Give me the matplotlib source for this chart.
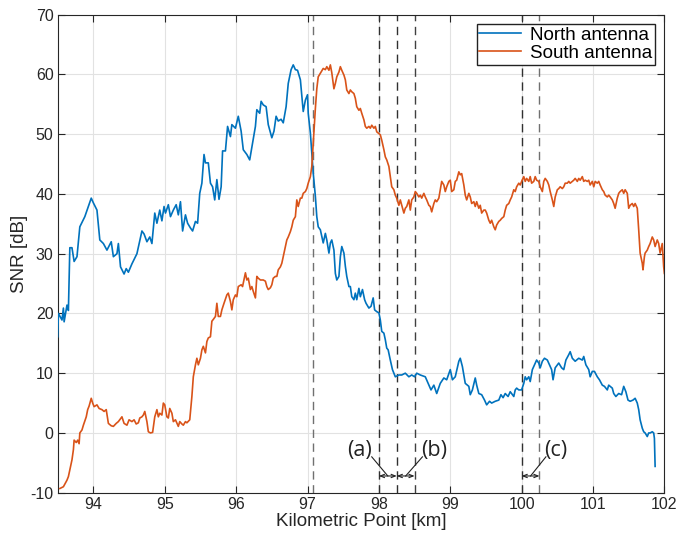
import matplotlib
matplotlib.use("Agg")
import matplotlib.pyplot as plt

plt.rcParams["font.family"] = ["Liberation Sans", "DejaVu Sans"]
plt.rcParams["axes.unicode_minus"] = False

# North antenna (km, dB)
north_km = [93.50, 93.51, 93.56, 93.58, 93.59, 93.63, 93.65, 93.67, 93.70, 93.73, 93.77, 93.81, 93.88, 93.93,
            93.97, 94.00, 94.05, 94.09, 94.14, 94.19, 94.25, 94.28, 94.33, 94.35, 94.38, 94.43, 94.46, 94.49,
            94.54, 94.61, 94.68, 94.71, 94.75, 94.79, 94.82, 94.86, 94.89, 94.93, 94.96, 94.99, 95.01, 95.05,
            95.08, 95.12, 95.16, 95.19, 95.22, 95.25, 95.29, 95.32, 95.36, 95.39, 95.43, 95.46, 95.49, 95.52,
            95.55, 95.57, 95.61, 95.64, 95.67, 95.70, 95.73, 95.76, 95.79, 95.81, 95.85, 95.88, 95.92, 95.94,
            95.99, 96.03, 96.07, 96.10, 96.15, 96.19, 96.23, 96.27, 96.29, 96.33, 96.35, 96.38, 96.42, 96.45,
            96.50, 96.53, 96.56, 96.59, 96.63, 96.66, 96.70, 96.73, 96.77, 96.80, 96.83, 96.86, 96.90, 96.94,
            96.97, 97.00, 97.01, 97.04, 97.06, 97.08, 97.11, 97.13, 97.15, 97.18, 97.20, 97.22, 97.25, 97.27,
            97.30, 97.32, 97.34, 97.37, 97.39, 97.41, 97.44, 97.46, 97.48, 97.51, 97.53, 97.55, 97.58, 97.60,
            97.62, 97.65, 97.67, 97.69, 97.72, 97.74, 97.77, 97.80, 97.82, 97.86, 97.89, 97.92, 97.94, 97.97,
            98.00, 98.02, 98.04, 98.07, 98.09, 98.11, 98.13, 98.16, 98.19, 98.23, 98.28, 98.32, 98.37, 98.42,
            98.46, 98.50, 98.53, 98.58, 98.65, 98.70, 98.73, 98.77, 98.81, 98.86, 98.91, 98.95, 99.00, 99.03,
            99.07, 99.12, 99.14, 99.17, 99.21, 99.26, 99.28, 99.31, 99.35, 99.37, 99.40, 99.44, 99.48, 99.51,
            99.55, 99.58, 99.63, 99.68, 99.71, 99.74, 99.77, 99.81, 99.84, 99.89, 99.91, 99.93, 99.96, 100.00,
            100.03, 100.05, 100.07, 100.10, 100.12, 100.15, 100.18, 100.21, 100.24, 100.26, 100.29, 100.32,
            100.36, 100.39, 100.42, 100.44, 100.47, 100.52, 100.56, 100.59, 100.62, 100.66, 100.68, 100.71,
            100.75, 100.80, 100.85, 100.87, 100.90, 100.94, 100.96, 100.99, 101.02, 101.06, 101.09, 101.13,
            101.16, 101.20, 101.22, 101.27, 101.29, 101.32, 101.36, 101.40, 101.43, 101.46, 101.49, 101.52,
            101.56, 101.59, 101.62, 101.64, 101.66, 101.69, 101.71, 101.73, 101.76, 101.78, 101.80, 101.83,
            101.85, 101.86, 101.87]
north_db = [16.1, 20.0, 18.9, 20.9, 18.6, 21.4, 20.5, 31.0, 31.0, 28.7, 29.5, 34.5, 36.2, 37.9,
            39.3, 38.5, 37.3, 32.3, 31.7, 30.6, 32.0, 29.5, 30.0, 31.7, 27.8, 26.6, 27.5, 26.9,
            28.3, 30.0, 33.8, 33.3, 32.0, 32.8, 31.7, 36.8, 35.1, 37.3, 35.5, 37.9, 36.8, 38.2,
            36.2, 37.3, 38.2, 36.5, 38.7, 33.8, 36.5, 35.1, 34.3, 33.8, 35.4, 35.1, 40.1, 41.8,
            46.6, 45.2, 45.2, 41.8, 41.2, 39.0, 42.4, 39.1, 41.2, 47.2, 47.2, 51.3, 49.6, 51.6,
            51.0, 53.0, 50.5, 47.4, 46.6, 45.7, 48.5, 51.3, 54.1, 53.5, 55.5, 54.9, 54.6, 51.6,
            49.4, 50.5, 53.0, 52.2, 52.5, 51.9, 54.6, 58.5, 60.8, 61.6, 60.8, 60.7, 59.1, 53.8,
            55.7, 56.6, 53.5, 50.2, 46.8, 43.5, 39.6, 36.2, 34.5, 34.0, 32.9, 31.8, 33.4, 32.3,
            30.1, 31.8, 32.3, 30.6, 26.7, 25.6, 26.2, 29.5, 31.2, 30.1, 27.9, 26.2, 24.5, 24.5,
            22.8, 22.3, 23.4, 22.3, 24.2, 22.8, 24.0, 22.3, 21.7, 20.9, 21.2, 22.6, 20.6, 20.3,
            20.1, 18.9, 17.0, 16.7, 15.6, 14.2, 13.9, 12.2, 10.6, 9.4, 9.7, 9.7, 10.0, 9.4,
            9.7, 9.4, 10.0, 9.7, 9.4, 8.0, 7.2, 8.0, 6.6, 8.3, 9.2, 8.9, 10.6, 8.9,
            9.4, 12.0, 12.5, 11.1, 8.3, 7.8, 6.4, 7.2, 9.2, 8.0, 6.6, 6.4, 5.5, 4.7,
            5.3, 5.0, 5.3, 5.5, 6.4, 5.9, 6.6, 6.1, 6.9, 6.1, 7.2, 7.5, 7.2, 7.2,
            8.3, 9.4, 8.9, 9.4, 8.6, 10.6, 11.4, 12.2, 11.7, 10.9, 12.0, 12.5,
            12.2, 11.4, 10.6, 8.9, 10.9, 11.7, 10.9, 10.6, 12.2, 13.1, 13.6, 12.5,
            12.0, 12.5, 12.2, 12.8, 11.4, 10.6, 9.4, 10.3, 10.3, 9.4, 8.9, 8.0,
            7.8, 7.2, 8.0, 7.5, 6.6, 6.1, 6.6, 6.4, 7.8, 6.9, 5.5, 5.3,
            5.5, 5.8, 5.0, 3.9, 2.2, 0.8, 0.2, 0.0, -0.6, 0.0, 0.0, 0.2,
            0.0, -0.9, -5.6]

# South antenna (km, dB)
south_km = [93.53, 93.58, 93.63, 93.65, 93.67, 93.70, 93.72, 93.73, 93.76, 93.78, 93.80, 93.81, 93.84, 93.86,
            93.90, 93.92, 93.94, 93.97, 93.99, 94.01, 94.05, 94.08, 94.12, 94.15, 94.18, 94.21, 94.25, 94.28,
            94.32, 94.35, 94.40, 94.43, 94.47, 94.50, 94.54, 94.57, 94.60, 94.63, 94.65, 94.68, 94.70, 94.72,
            94.75, 94.77, 94.80, 94.83, 94.86, 94.89, 94.91, 94.93, 94.96, 94.98, 95.00, 95.03, 95.05, 95.07,
            95.10, 95.12, 95.15, 95.19, 95.21, 95.24, 95.26, 95.29, 95.31, 95.35, 95.38, 95.40, 95.43, 95.45,
            95.47, 95.50, 95.52, 95.54, 95.57, 95.59, 95.61, 95.64, 95.66, 95.68, 95.71, 95.73, 95.75, 95.78,
            95.80, 95.83, 95.87, 95.89, 95.92, 95.94, 95.96, 95.99, 96.01, 96.03, 96.07, 96.09, 96.13, 96.15,
            96.17, 96.20, 96.22, 96.24, 96.27, 96.29, 96.31, 96.34, 96.36, 96.38, 96.41, 96.43, 96.45, 96.48,
            96.50, 96.52, 96.55, 96.57, 96.59, 96.62, 96.64, 96.66, 96.69, 96.71, 96.73, 96.76, 96.78, 96.80,
            96.83, 96.85, 96.87, 96.90, 96.92, 96.94, 96.97, 96.99, 97.01, 97.04, 97.06, 97.07, 97.09, 97.11,
            97.13, 97.15, 97.18, 97.20, 97.22, 97.25, 97.27, 97.30, 97.32, 97.34, 97.37, 97.39, 97.41, 97.44,
            97.46, 97.48, 97.51, 97.53, 97.55, 97.58, 97.60, 97.62, 97.65, 97.67, 97.69, 97.72, 97.74, 97.76,
            97.79, 97.81, 97.83, 97.86, 97.88, 97.90, 97.93, 97.95, 97.97, 98.00, 98.02, 98.04, 98.07, 98.09,
            98.11, 98.14, 98.16, 98.18, 98.21, 98.23, 98.25, 98.28, 98.30, 98.32, 98.35, 98.37, 98.39, 98.42,
            98.44, 98.46, 98.49, 98.51, 98.53, 98.56, 98.58, 98.60, 98.63, 98.65, 98.67, 98.70, 98.72, 98.74,
            98.77, 98.79, 98.81, 98.84, 98.86, 98.88, 98.91, 98.93, 98.95, 98.98, 99.00, 99.02, 99.05, 99.07,
            99.09, 99.12, 99.14, 99.16, 99.19, 99.21, 99.23, 99.26, 99.28, 99.30, 99.33, 99.35, 99.37, 99.40,
            99.42, 99.44, 99.47, 99.49, 99.51, 99.54, 99.56, 99.58, 99.61, 99.63, 99.65, 99.68, 99.70, 99.72,
            99.75, 99.77, 99.79, 99.82, 99.84, 99.86, 99.89, 99.91, 99.93, 99.96, 99.98, 100.00, 100.03, 100.05,
            100.07, 100.10, 100.12, 100.14, 100.17, 100.19, 100.21, 100.24, 100.26, 100.29, 100.31, 100.33,
            100.36, 100.38, 100.40, 100.43, 100.45, 100.47, 100.50, 100.52, 100.54, 100.57, 100.59, 100.61,
            100.64, 100.66, 100.68, 100.71, 100.73, 100.75, 100.78, 100.80, 100.82, 100.85, 100.87, 100.89,
            100.92, 100.94, 100.96, 100.99, 101.01, 101.03, 101.06, 101.08, 101.10, 101.13, 101.15, 101.17,
            101.20, 101.22, 101.24, 101.27, 101.29, 101.31, 101.34, 101.36, 101.38, 101.41, 101.43, 101.45,
            101.48, 101.50, 101.52, 101.55, 101.57, 101.59, 101.62, 101.64, 101.66, 101.69, 101.70, 101.72,
            101.73, 101.76, 101.78, 101.80, 101.83, 101.85, 101.87, 101.90, 101.92, 101.94, 101.97, 101.99,
            102.00]
south_db = [-9.3, -9.0, -7.9, -7.3, -6.2, -4.5, -2.8, -1.2, -1.6, -1.2, -1.8, 0.0, 0.5, 1.3,
            2.7, 3.9, 4.5, 5.8, 5.0, 4.4, 4.7, 4.1, 3.9, 3.6, 3.9, 1.6, 1.2, 1.1,
            1.6, 1.9, 2.7, 1.6, 1.3, 2.2, 1.9, 2.2, 1.5, 1.7, 2.5, 2.7, 3.0, 3.6,
            1.9, 0.2, 0.0, 0.1, 2.7, 3.9, 2.7, 3.3, 3.0, 5.0, 4.7, 2.7, 2.5, 4.1,
            3.3, 1.9, 2.2, 1.1, 1.9, 1.5, 1.3, 1.9, 1.7, 2.2, 6.1, 9.4, 11.4, 12.5,
            11.4, 12.5, 13.9, 14.5, 13.4, 15.3, 15.9, 16.1, 18.7, 19.0, 19.5, 21.7, 19.5, 19.5,
            20.6, 21.7, 23.1, 23.4, 22.0, 20.6, 22.3, 23.1, 22.8, 24.5, 24.8, 24.5, 26.8, 25.6,
            25.9, 24.0, 24.5, 23.7, 22.6, 26.2, 25.9, 25.6, 25.6, 25.6, 25.4, 24.5, 24.0, 24.3,
            24.8, 25.9, 26.2, 26.2, 27.3, 27.8, 28.4, 29.5, 31.2, 32.3, 32.8, 33.7, 34.5, 35.6,
            36.2, 39.0, 37.9, 39.3, 39.3, 40.1, 40.4, 40.9, 41.8, 42.9, 44.6, 46.5, 50.1, 54.3,
            57.6, 59.6, 60.2, 60.6, 61.0, 60.8, 61.3, 60.7, 61.6, 60.3, 57.6, 58.5, 59.6, 60.4,
            61.3, 60.7, 59.9, 59.1, 57.4, 56.8, 57.4, 57.1, 56.8, 56.0, 54.6, 54.0, 54.3, 53.5,
            52.4, 51.3, 51.0, 51.3, 51.0, 51.5, 51.0, 51.3, 50.4, 50.1, 49.9, 49.0, 47.4, 46.2,
            45.7, 44.6, 42.9, 41.2, 40.7, 39.8, 39.3, 38.1, 39.0, 38.1, 36.8, 37.6, 37.9, 39.0,
            37.3, 39.0, 39.5, 40.4, 40.1, 39.5, 39.8, 39.3, 40.1, 39.5, 39.0, 38.1, 37.9, 37.0,
            38.4, 39.0, 38.7, 39.3, 40.7, 42.1, 41.5, 40.4, 41.2, 42.1, 42.3, 40.4, 40.7, 42.1,
            42.3, 43.7, 43.2, 43.4, 41.5, 39.8, 39.0, 40.1, 39.5, 38.4, 38.7, 37.9, 38.7, 37.6,
            38.1, 36.8, 37.3, 37.3, 36.8, 35.6, 35.1, 35.6, 34.5, 34.0, 34.8, 35.4, 35.6, 35.9,
            36.2, 37.3, 38.1, 38.4, 39.0, 39.5, 40.7, 40.4, 41.2, 41.8, 41.5, 42.1, 42.9, 42.1,
            42.6, 42.1, 42.9, 41.8, 42.1, 42.9, 42.3, 42.1, 41.2, 40.4, 42.1, 42.6,
            42.1, 41.5, 40.4, 39.0, 37.9, 39.5, 40.7, 40.9, 41.2, 40.9, 41.2, 41.8,
            41.8, 42.1, 41.8, 42.1, 42.3, 42.6, 42.1, 42.6, 42.3, 42.9, 42.1, 42.3,
            42.1, 42.3, 41.5, 42.1, 41.2, 42.1, 41.8, 42.1, 41.5, 40.7, 40.4, 39.8,
            39.5, 39.8, 39.5, 39.0, 38.4, 37.6, 39.3, 40.1, 40.4, 40.7, 40.1, 40.7,
            40.1, 37.6, 38.1, 38.4, 37.9, 38.4, 37.6, 34.0, 30.1, 28.4, 27.3, 29.5,
            30.1, 30.6, 31.2, 31.7, 32.8, 32.3, 31.2, 32.3, 31.7, 30.1, 31.7, 27.8,
            26.7]

# dashed section boundaries
section_km = [97.08, 98.0, 98.25, 98.5, 100.0, 100.25]
section_colors = ["#707070", "#303030", "#303030", "#404040", "#303030", "#707070"]

# labelled segments: (label, start, end)
segments = [("(a)", 98.0, 98.25), ("(b)", 98.25, 98.5), ("(c)", 100.0, 100.25)]
label_x = [97.73, 98.77, 100.48]
leader_from = [97.90, 98.61, 100.34]

fig = plt.figure(figsize=(6.91, 5.38), dpi=100)
ax = fig.add_axes([0.0835, 0.0842, 0.878, 0.8885])

ax.plot(north_km, north_db, color="#0072BD", lw=1.2, label="North antenna", zorder=3)
ax.plot(south_km, south_db, color="#D95319", lw=1.2, label="South antenna", zorder=3)

for xk, c in zip(section_km, section_colors):
    ax.axvline(xk, color=c, lw=1.0, ls=(0, (6, 4)), zorder=2)

arrow_y = -7.2
for (lab, x0, x1), lx, lf in zip(segments, label_x, leader_from):
    ax.annotate("", xy=(x0, arrow_y), xytext=(x1, arrow_y),
                arrowprops=dict(arrowstyle="<->,head_length=0.3,head_width=0.12",
                                color="#222222", lw=0.8, shrinkA=0, shrinkB=0))
    xm = (x0 + x1) / 2
    ax.plot([lf, xm], [-4.0, arrow_y], color="#222222", lw=0.8, zorder=4)
    ax.text(lx, -2.9, lab, ha="center", va="center", fontsize=15.5,
            family=["Open Sans", "DejaVu Sans"], color="#222222")

ax.set_xlim(93.5, 102)
ax.set_ylim(-10, 70)
ax.set_xticks([94, 95, 96, 97, 98, 99, 100, 101, 102])
ax.set_yticks(range(-10, 71, 10))

ax.grid(True, color="#e2e2e2", lw=0.8)
ax.set_axisbelow(True)
ax.tick_params(direction="in", top=True, right=True, length=5, width=0.8,
               labelsize=11.5, colors="#262626", pad=3)
for s in ax.spines.values():
    s.set_color("#262626")
    s.set_linewidth(0.8)

ax.set_xlabel("Kilometric Point [km]", fontsize=13.5, color="#262626", labelpad=1)
ax.set_ylabel("SNR [dB]", fontsize=13.5, color="#262626", labelpad=2)

leg = ax.legend(loc="upper right", fontsize=13.5, fancybox=False, framealpha=1,
                edgecolor="#222222", borderaxespad=0.5, handlelength=2.2,
                handletextpad=0.5, borderpad=0.15, labelspacing=0.05)
leg.get_frame().set_linewidth(1.0)

fig.savefig("out.png", dpi=100)
